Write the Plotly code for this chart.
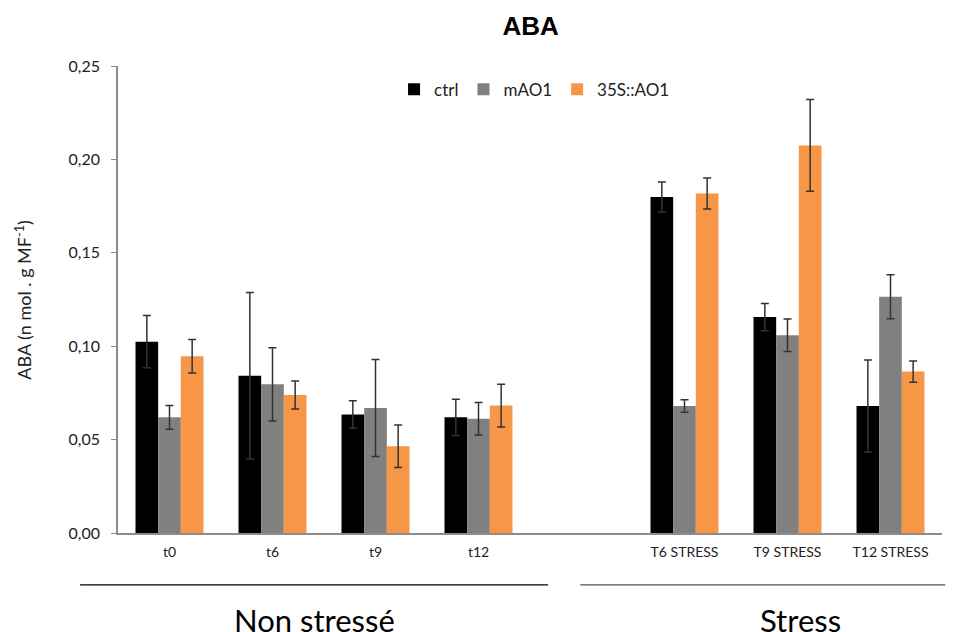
import plotly.graph_objects as go

categories = ["t0", "t6", "t9", "t12", " ", "T6 STRESS", "T9 STRESS", "T12 STRESS"]
series_names = ["ctrl", "mAO1", "35S::AO1"]
ctrl = [0.1024, 0.0842, 0.0635, 0.0619, None, 0.1799, 0.1156, 0.0680]
ctrl_err = [0.014, 0.0446, 0.0073, 0.0097, None, 0.008, 0.0073, 0.0246]
mao1 = [0.0619, 0.0796, 0.0669, 0.0612, None, 0.0680, 0.1058, 0.1265]
mao1_err = [0.0063, 0.0196, 0.026, 0.0087, None, 0.0033, 0.0087, 0.0118]
oe = [0.0946, 0.0739, 0.0464, 0.0682, None, 0.1817, 0.2075, 0.0864]
oe_err = [0.009, 0.0075, 0.0114, 0.0114, None, 0.0083, 0.0246, 0.0057]
colors = ["#000000", "#808080", "#F79646"]
y_ticks = [0, 0.05, 0.10, 0.15, 0.20, 0.25]
group_labels = ["Non stressé", "Stress"]

FONT = "Lato, Carlito, 'Open Sans', sans-serif"

fig = go.Figure()
for name, vals, errs, col in zip(series_names, [ctrl, mao1, oe], [ctrl_err, mao1_err, oe_err], colors):
    fig.add_trace(go.Bar(
        x=categories, y=vals, name=name, marker=dict(color=col, line=dict(width=0)),
        error_y=dict(type="data", array=errs, visible=True, color="#333333", thickness=1.5, width=4),
    ))

fig.update_layout(
    width=947, height=624,
    margin=dict(l=110, r=13, t=58, b=99),
    paper_bgcolor="white", plot_bgcolor="white",
    barmode="group", bargap=0.34, bargroupgap=0,
    separators=", ",
    font=dict(family=FONT, size=16, color="#222222"),
    title=dict(text="<b>ABA</b>", x=0.552, xanchor="center", y=0.971, yanchor="middle",
               font=dict(size=26, color="#000000", family="'Liberation Sans', Arial, sans-serif")),
    legend=dict(orientation="h", x=0.335, xanchor="left", y=0.949, yanchor="middle",
                font=dict(size=17, color="#222222"), bgcolor="rgba(0,0,0,0)", traceorder="normal"),
    showlegend=True,
)
fig.update_xaxes(
    type="category", categoryorder="array", categoryarray=categories,
    showline=True, linecolor="#8c8c8c", linewidth=1.5, ticks="", showgrid=False,
    ticklabelstandoff=5,
    tickfont=dict(size=14, color="#222222"), range=[-0.5, 7.5],
)
fig.update_yaxes(
    range=[0, 0.25], tickvals=y_ticks, tickformat=".2f",
    showline=True, linecolor="#8c8c8c", linewidth=1.5, ticks="outside", ticklen=5,
    tickcolor="#8c8c8c", showgrid=False, zeroline=False, ticklabelstandoff=8,
    tickfont=dict(size=16, color="#222222"),
)

# y-axis title
fig.add_annotation(text="ABA (n mol . g MF<sup>-1</sup>)", xref="paper", yref="paper",
                   x=-0.115, y=0.5, textangle=-90, showarrow=False,
                   font=dict(size=18, color="#222222"), xanchor="center", yanchor="middle")

# group lines and labels
fig.add_shape(type="line", xref="paper", yref="paper", x0=-0.046, x1=0.522, y0=-0.111, y1=-0.111,
              line=dict(color="#000000", width=1.2))
fig.add_shape(type="line", xref="paper", yref="paper", x0=0.561, x1=1.004, y0=-0.111, y1=-0.111,
              line=dict(color="#555555", width=1.2))
fig.add_annotation(text=group_labels[0], xref="paper", yref="paper", x=0.239, y=-0.187,
                   showarrow=False, font=dict(size=31, color="#000000"), xanchor="center", yanchor="middle")
fig.add_annotation(text=group_labels[1], xref="paper", yref="paper", x=0.828, y=-0.187,
                   showarrow=False, font=dict(size=31, color="#000000"), xanchor="center", yanchor="middle")

fig.write_html("out.html")
